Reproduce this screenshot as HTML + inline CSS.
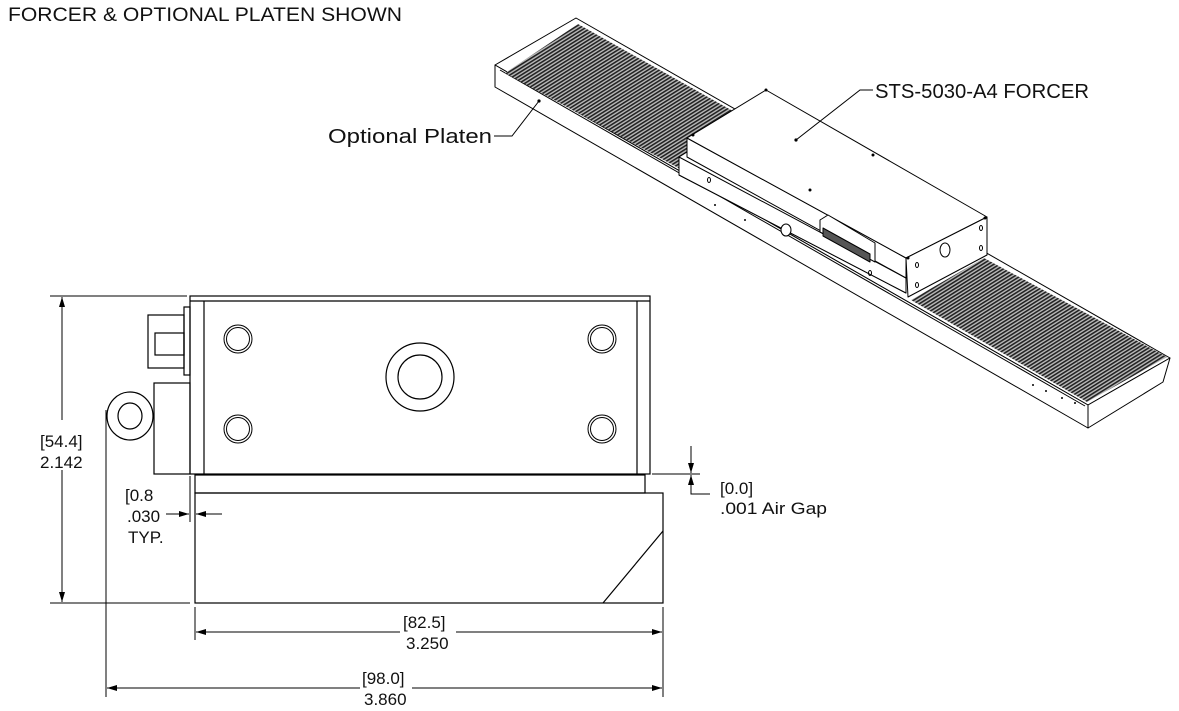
<!DOCTYPE html>
<html><head><meta charset="utf-8"><style>
html,body{margin:0;padding:0;background:#fff}
svg{display:block}
text{font-family:"Liberation Sans",sans-serif;fill:#111}
</style></head><body>
<svg width="1179" height="711" viewBox="0 0 1179 711" xmlns="http://www.w3.org/2000/svg">
<defs>
<pattern id="gr" width="3" height="3" patternUnits="userSpaceOnUse" patternTransform="rotate(-32)">
<rect width="3" height="3" fill="#bbb"/><rect width="3" height="1.6" fill="#222"/>
</pattern>
<marker id="ar" viewBox="0 0 10 6" refX="10" refY="3" markerWidth="10" markerHeight="6" orient="auto" markerUnits="userSpaceOnUse"><path d="M0,0 L10,3 L0,6 z" fill="#000"/></marker>
</defs>

<text x="8" y="21" font-size="19" textLength="394" lengthAdjust="spacingAndGlyphs">FORCER &amp; OPTIONAL PLATEN SHOWN</text>

<!-- ISOMETRIC VIEW -->
<g fill="#fff" stroke="#000" stroke-width="1" stroke-linejoin="round">
  <polygon points="495,65 576,18 1170,358 1088,405"/>
  <polygon points="495,65 1088,405 1088,428 495,87"/>
  <polygon points="1088,405 1170,358 1163,382 1088,428"/>
  <line x1="500" y1="70" x2="1085" y2="406"/>
</g>
<polygon points="505,73 578,24 740,115 682,170" fill="url(#gr)"/>
<polygon points="911,300 984,258 1167,357 1087,402" fill="url(#gr)"/>
<g fill="#fff" stroke="#000" stroke-width="1" stroke-linejoin="round">
  <polygon points="679,157 687,152 906,276 906,293 679,175"/>
  <polygon points="679,157 906,278 906,293 679,175"/>
  <polygon points="687,138 906,258 906,278 687,157"/>
  <polygon points="687,138 766,90 987,217 906,258"/>
  <polygon points="906,258 987,217 987,255 908,297"/>
  <polygon points="820,220 828,215 875,243 875,262 820,232"/>
  <polygon points="823,228 870,254 870,262 823,236" fill="#555"/>
  <ellipse cx="786" cy="230" rx="5" ry="6"/>
  <ellipse cx="945" cy="250" rx="5" ry="7"/>
</g>
<g fill="#000">
  <circle cx="539" cy="101" r="1.6"/><circle cx="796" cy="140" r="1.6"/>
  <circle cx="766" cy="90" r="1.5"/><circle cx="693" cy="135" r="1.5"/>
  <circle cx="873" cy="155" r="1.5"/><circle cx="810" cy="190" r="1.5"/>
  <circle cx="985" cy="218" r="1.5"/><circle cx="908" cy="258" r="1.5"/>
  <circle cx="715" cy="205" r="1"/><circle cx="745" cy="220" r="1"/>
  <circle cx="1033" cy="385" r="1"/><circle cx="1046" cy="391" r="1"/><circle cx="1062" cy="398" r="1"/><circle cx="1075" cy="403" r="1"/>
</g>
<g fill="none" stroke="#000">
  <ellipse cx="709" cy="180" rx="1.5" ry="2.5"/><ellipse cx="870" cy="273" rx="1.5" ry="2.5"/>
  <ellipse cx="917" cy="265" rx="1.5" ry="2.5"/><ellipse cx="917" cy="285" rx="1.5" ry="2.5"/>
  <ellipse cx="981" cy="228" rx="1.5" ry="2.5"/><ellipse cx="981" cy="248" rx="1.5" ry="2.5"/>
</g>
<polyline points="494,136 512,136 539,101" fill="none" stroke="#000"/>
<polyline points="873,90 860,90 796,140" fill="none" stroke="#000"/>
<text x="328" y="143" font-size="20" textLength="164" lengthAdjust="spacingAndGlyphs">Optional Platen</text>
<text x="875" y="98" font-size="20" textLength="214" lengthAdjust="spacingAndGlyphs">STS-5030-A4 FORCER</text>

<!-- FRONT VIEW -->
<g fill="none" stroke="#000" stroke-width="1.2">
  <rect x="190" y="296" width="460" height="178"/>
  <line x1="190" y1="301" x2="650" y2="301"/>
  <line x1="204" y1="301" x2="204" y2="474"/>
  <line x1="637" y1="301" x2="637" y2="474"/>
  <rect x="195" y="475" width="450" height="18"/>
  <rect x="195" y="493" width="468" height="110"/>
  <line x1="663" y1="531" x2="603" y2="603"/>
  <rect x="184" y="307" width="6" height="68"/>
  <rect x="148" y="315" width="36" height="53"/>
  <rect x="155" y="333" width="29" height="22"/>
  <rect x="154" y="383" width="36" height="91"/>
  <ellipse cx="130" cy="416" rx="23" ry="24"/>
  <ellipse cx="130" cy="416" rx="12" ry="13"/>
  <g stroke-width="1">
  <circle cx="238" cy="339" r="14"/><circle cx="238" cy="339" r="11.5"/>
  <circle cx="238" cy="429" r="14"/><circle cx="238" cy="429" r="11.5"/>
  <circle cx="602" cy="339" r="14"/><circle cx="602" cy="339" r="11.5"/>
  <circle cx="602" cy="429" r="14"/><circle cx="602" cy="429" r="11.5"/>
  </g>
  <circle cx="420" cy="377" r="34"/>
  <circle cx="420" cy="377" r="22"/>
</g>

<g stroke="#000" stroke-width="1" fill="none">
  <line x1="50" y1="296" x2="187" y2="296"/>
  <line x1="50" y1="603" x2="190" y2="603"/>
  <line x1="62" y1="420" x2="62" y2="297" marker-end="url(#ar)"/>
  <line x1="62" y1="470" x2="62" y2="602" marker-end="url(#ar)"/>
  <line x1="190" y1="476" x2="190" y2="522"/>
  <line x1="195" y1="493" x2="195" y2="522"/>
  <line x1="166" y1="514" x2="189" y2="514" marker-end="url(#ar)"/>
  <line x1="222" y1="514" x2="196" y2="514" marker-end="url(#ar)"/>
  <line x1="652" y1="474" x2="700" y2="474"/>
  <line x1="691" y1="446" x2="691" y2="473" marker-end="url(#ar)"/>
  <polyline points="710,494 691,494 691,476"/>
  <line x1="691" y1="494" x2="691" y2="475" marker-end="url(#ar)"/>
  <line x1="195" y1="607" x2="195" y2="640"/>
  <line x1="663" y1="607" x2="663" y2="640"/>
  <line x1="400" y1="632" x2="196" y2="632" marker-end="url(#ar)"/>
  <line x1="456" y1="632" x2="662" y2="632" marker-end="url(#ar)"/>
  <line x1="106" y1="410" x2="106" y2="697"/>
  <line x1="663" y1="640" x2="663" y2="697"/>
  <line x1="360" y1="688" x2="107" y2="688" marker-end="url(#ar)"/>
  <line x1="412" y1="688" x2="662" y2="688" marker-end="url(#ar)"/>
</g>
<g font-size="17">
  <text x="40" y="447">[54.4]</text>
  <text x="40" y="468">2.142</text>
  <text x="125" y="501">[0.8</text>
  <text x="127" y="522">.030</text>
  <text x="128" y="543">TYP.</text>
  <text x="720" y="494">[0.0]</text>
  <text x="720" y="514" textLength="107" lengthAdjust="spacingAndGlyphs">.001  Air Gap</text>
  <text x="403" y="628">[82.5]</text>
  <text x="406" y="649">3.250</text>
  <text x="362" y="684">[98.0]</text>
  <text x="364" y="705">3.860</text>
</g>
</svg>
</body></html>
